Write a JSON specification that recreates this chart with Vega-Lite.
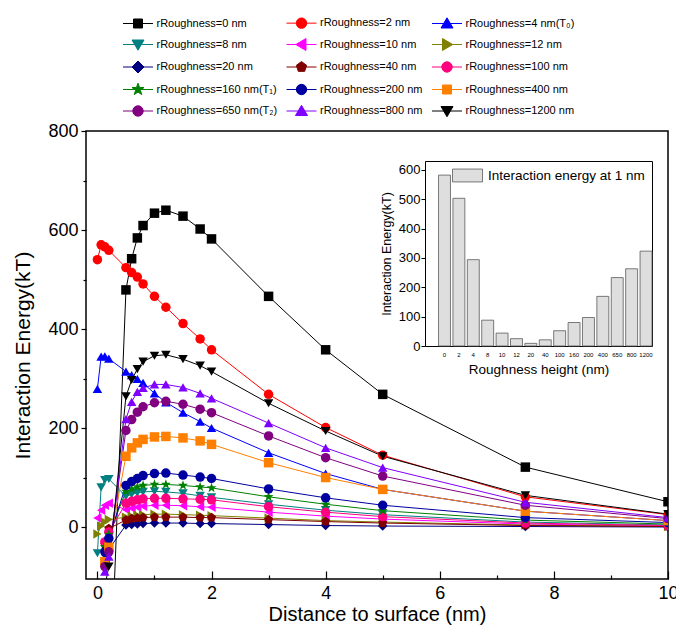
{
"$schema": "https://vega.github.io/schema/vega-lite/v6.json",
"width": 582, "height": 448,
"autosize": {"type": "none"},
"padding": {"left": 86, "top": 131, "right": 8, "bottom": 46},
"background": "white",
"config": {
 "view": {"stroke": "black", "strokeWidth": 1.5},
 "font": "Liberation Sans",
 "axis": {"labelFont": "Liberation Sans", "titleFont": "Liberation Sans", "labelColor": "black", "titleColor": "black", "tickColor": "black", "domainColor": "black", "grid": false, "titleFontWeight": "normal"},
 "legend": {"labelFont": "Liberation Sans", "labelColor": "black", "padding": 0}
},
"datasets": {
 "curves": [
  {"s":"0 nm","d":0.2,"e":-400},{"s":"0 nm","d":0.5,"e":479},{"s":"0 nm","d":0.6,"e":542},{"s":"0 nm","d":0.7,"e":584},{"s":"0 nm","d":0.8,"e":609},{"s":"0 nm","d":1,"e":634},{"s":"0 nm","d":1.2,"e":640},{"s":"0 nm","d":1.5,"e":628},{"s":"0 nm","d":1.8,"e":602},{"s":"0 nm","d":2,"e":582},{"s":"0 nm","d":3,"e":466},{"s":"0 nm","d":4,"e":358},{"s":"0 nm","d":5,"e":268},{"s":"0 nm","d":7.5,"e":121},{"s":"0 nm","d":10,"e":51},
  {"s":"2 nm","d":0,"e":540},{"s":"2 nm","d":0.065,"e":570},{"s":"2 nm","d":0.13,"e":566},{"s":"2 nm","d":0.2,"e":559},{"s":"2 nm","d":0.5,"e":524},{"s":"2 nm","d":0.6,"e":514},{"s":"2 nm","d":0.7,"e":505},{"s":"2 nm","d":0.8,"e":491},{"s":"2 nm","d":1,"e":466},{"s":"2 nm","d":1.2,"e":444},{"s":"2 nm","d":1.5,"e":411},{"s":"2 nm","d":1.8,"e":380},{"s":"2 nm","d":2,"e":358},{"s":"2 nm","d":3,"e":268},{"s":"2 nm","d":4,"e":201},{"s":"2 nm","d":5,"e":145},{"s":"2 nm","d":7.5,"e":61},{"s":"2 nm","d":10,"e":25},
  {"s":"4 nm(T₀)","d":0,"e":279},{"s":"4 nm(T₀)","d":0.065,"e":344},{"s":"4 nm(T₀)","d":0.13,"e":345},{"s":"4 nm(T₀)","d":0.2,"e":340},{"s":"4 nm(T₀)","d":0.5,"e":314},{"s":"4 nm(T₀)","d":0.6,"e":307},{"s":"4 nm(T₀)","d":0.7,"e":299},{"s":"4 nm(T₀)","d":0.8,"e":291},{"s":"4 nm(T₀)","d":1,"e":270},{"s":"4 nm(T₀)","d":1.2,"e":252},{"s":"4 nm(T₀)","d":1.5,"e":231},{"s":"4 nm(T₀)","d":1.8,"e":213},{"s":"4 nm(T₀)","d":2,"e":200},{"s":"4 nm(T₀)","d":3,"e":150},{"s":"4 nm(T₀)","d":4,"e":108},{"s":"4 nm(T₀)","d":5,"e":76},{"s":"4 nm(T₀)","d":7.5,"e":32},{"s":"4 nm(T₀)","d":10,"e":13},
  {"s":"8 nm","d":0,"e":-53},{"s":"8 nm","d":0.065,"e":80},{"s":"8 nm","d":0.13,"e":95},{"s":"8 nm","d":0.2,"e":97},{"s":"8 nm","d":0.5,"e":62},{"s":"8 nm","d":0.6,"e":66},{"s":"8 nm","d":0.7,"e":69},{"s":"8 nm","d":0.8,"e":71},{"s":"8 nm","d":1,"e":72},{"s":"8 nm","d":1.2,"e":71},{"s":"8 nm","d":1.5,"e":68},{"s":"8 nm","d":1.8,"e":63},{"s":"8 nm","d":2,"e":60},{"s":"8 nm","d":3,"e":46},{"s":"8 nm","d":4,"e":34},{"s":"8 nm","d":5,"e":25},{"s":"8 nm","d":7.5,"e":10},{"s":"8 nm","d":10,"e":4},
  {"s":"10 nm","d":0,"e":18},{"s":"10 nm","d":0.065,"e":34},{"s":"10 nm","d":0.13,"e":44},{"s":"10 nm","d":0.2,"e":48},{"s":"10 nm","d":0.5,"e":35},{"s":"10 nm","d":0.6,"e":38},{"s":"10 nm","d":0.7,"e":40},{"s":"10 nm","d":0.8,"e":42},{"s":"10 nm","d":1,"e":44},{"s":"10 nm","d":1.2,"e":44},{"s":"10 nm","d":1.5,"e":43},{"s":"10 nm","d":1.8,"e":41},{"s":"10 nm","d":2,"e":40},{"s":"10 nm","d":3,"e":30},{"s":"10 nm","d":4,"e":22},{"s":"10 nm","d":5,"e":16},{"s":"10 nm","d":7.5,"e":6},{"s":"10 nm","d":10,"e":2},
  {"s":"12 nm","d":0,"e":-14},{"s":"12 nm","d":0.065,"e":2},{"s":"12 nm","d":0.13,"e":10},{"s":"12 nm","d":0.2,"e":15},{"s":"12 nm","d":0.5,"e":20},{"s":"12 nm","d":0.6,"e":22},{"s":"12 nm","d":0.7,"e":24},{"s":"12 nm","d":0.8,"e":25},{"s":"12 nm","d":1,"e":26},{"s":"12 nm","d":1.2,"e":26},{"s":"12 nm","d":1.5,"e":25},{"s":"12 nm","d":1.8,"e":24},{"s":"12 nm","d":2,"e":23},{"s":"12 nm","d":3,"e":18},{"s":"12 nm","d":4,"e":13},{"s":"12 nm","d":5,"e":10},{"s":"12 nm","d":7.5,"e":4},{"s":"12 nm","d":10,"e":1},
  {"s":"20 nm","d":0.13,"e":-65},{"s":"20 nm","d":0.2,"e":-45},{"s":"20 nm","d":0.5,"e":4},{"s":"20 nm","d":0.6,"e":5},{"s":"20 nm","d":0.7,"e":6},{"s":"20 nm","d":0.8,"e":7},{"s":"20 nm","d":1,"e":8},{"s":"20 nm","d":1.2,"e":8},{"s":"20 nm","d":1.5,"e":8},{"s":"20 nm","d":1.8,"e":7},{"s":"20 nm","d":2,"e":7},{"s":"20 nm","d":3,"e":5},{"s":"20 nm","d":4,"e":3},{"s":"20 nm","d":5,"e":2},{"s":"20 nm","d":7.5,"e":1},{"s":"20 nm","d":10,"e":0},
  {"s":"40 nm","d":0.13,"e":-35},{"s":"40 nm","d":0.2,"e":-3},{"s":"40 nm","d":0.5,"e":14},{"s":"40 nm","d":0.6,"e":17},{"s":"40 nm","d":0.7,"e":18},{"s":"40 nm","d":0.8,"e":19},{"s":"40 nm","d":1,"e":20},{"s":"40 nm","d":1.2,"e":20},{"s":"40 nm","d":1.5,"e":20},{"s":"40 nm","d":1.8,"e":19},{"s":"40 nm","d":2,"e":19},{"s":"40 nm","d":3,"e":15},{"s":"40 nm","d":4,"e":11},{"s":"40 nm","d":5,"e":8},{"s":"40 nm","d":7.5,"e":3},{"s":"40 nm","d":10,"e":1},
  {"s":"100 nm","d":0.13,"e":-30},{"s":"100 nm","d":0.2,"e":-10},{"s":"100 nm","d":0.5,"e":48},{"s":"100 nm","d":0.6,"e":52},{"s":"100 nm","d":0.7,"e":55},{"s":"100 nm","d":0.8,"e":57},{"s":"100 nm","d":1,"e":58},{"s":"100 nm","d":1.2,"e":58},{"s":"100 nm","d":1.5,"e":57},{"s":"100 nm","d":1.8,"e":56},{"s":"100 nm","d":2,"e":55},{"s":"100 nm","d":3,"e":41},{"s":"100 nm","d":4,"e":30},{"s":"100 nm","d":5,"e":21},{"s":"100 nm","d":7.5,"e":8},{"s":"100 nm","d":10,"e":3},
  {"s":"160 nm(T₁)","d":0.13,"e":-40},{"s":"160 nm(T₁)","d":0.2,"e":-15},{"s":"160 nm(T₁)","d":0.5,"e":72},{"s":"160 nm(T₁)","d":0.6,"e":77},{"s":"160 nm(T₁)","d":0.7,"e":81},{"s":"160 nm(T₁)","d":0.8,"e":84},{"s":"160 nm(T₁)","d":1,"e":86},{"s":"160 nm(T₁)","d":1.2,"e":86},{"s":"160 nm(T₁)","d":1.5,"e":84},{"s":"160 nm(T₁)","d":1.8,"e":81},{"s":"160 nm(T₁)","d":2,"e":79},{"s":"160 nm(T₁)","d":3,"e":61},{"s":"160 nm(T₁)","d":4,"e":46},{"s":"160 nm(T₁)","d":5,"e":33},{"s":"160 nm(T₁)","d":7.5,"e":14},{"s":"160 nm(T₁)","d":10,"e":6},
  {"s":"200 nm","d":0.13,"e":-50},{"s":"200 nm","d":0.2,"e":-23},{"s":"200 nm","d":0.5,"e":84},{"s":"200 nm","d":0.6,"e":92},{"s":"200 nm","d":0.7,"e":98},{"s":"200 nm","d":0.8,"e":104},{"s":"200 nm","d":1,"e":108},{"s":"200 nm","d":1.2,"e":109},{"s":"200 nm","d":1.5,"e":105},{"s":"200 nm","d":1.8,"e":101},{"s":"200 nm","d":2,"e":98},{"s":"200 nm","d":3,"e":77},{"s":"200 nm","d":4,"e":59},{"s":"200 nm","d":5,"e":44},{"s":"200 nm","d":7.5,"e":19},{"s":"200 nm","d":10,"e":9},
  {"s":"400 nm","d":0.13,"e":-70},{"s":"400 nm","d":0.2,"e":-41},{"s":"400 nm","d":0.5,"e":143},{"s":"400 nm","d":0.6,"e":160},{"s":"400 nm","d":0.7,"e":170},{"s":"400 nm","d":0.8,"e":177},{"s":"400 nm","d":1,"e":182},{"s":"400 nm","d":1.2,"e":183},{"s":"400 nm","d":1.5,"e":180},{"s":"400 nm","d":1.8,"e":174},{"s":"400 nm","d":2,"e":167},{"s":"400 nm","d":3,"e":130},{"s":"400 nm","d":4,"e":100},{"s":"400 nm","d":5,"e":76},{"s":"400 nm","d":7.5,"e":32},{"s":"400 nm","d":10,"e":13},
  {"s":"650 nm(T₂)","d":0.13,"e":-80},{"s":"650 nm(T₂)","d":0.2,"e":-50},{"s":"650 nm(T₂)","d":0.5,"e":195},{"s":"650 nm(T₂)","d":0.6,"e":217},{"s":"650 nm(T₂)","d":0.7,"e":232},{"s":"650 nm(T₂)","d":0.8,"e":243},{"s":"650 nm(T₂)","d":1,"e":251},{"s":"650 nm(T₂)","d":1.2,"e":254},{"s":"650 nm(T₂)","d":1.5,"e":248},{"s":"650 nm(T₂)","d":1.8,"e":238},{"s":"650 nm(T₂)","d":2,"e":231},{"s":"650 nm(T₂)","d":3,"e":184},{"s":"650 nm(T₂)","d":4,"e":140},{"s":"650 nm(T₂)","d":5,"e":103},{"s":"650 nm(T₂)","d":7.5,"e":44},{"s":"650 nm(T₂)","d":10,"e":17},
  {"s":"800 nm","d":0.13,"e":-90},{"s":"800 nm","d":0.2,"e":-60},{"s":"800 nm","d":0.5,"e":218},{"s":"800 nm","d":0.6,"e":253},{"s":"800 nm","d":0.7,"e":273},{"s":"800 nm","d":0.8,"e":281},{"s":"800 nm","d":1,"e":288},{"s":"800 nm","d":1.2,"e":288},{"s":"800 nm","d":1.5,"e":282},{"s":"800 nm","d":1.8,"e":270},{"s":"800 nm","d":2,"e":260},{"s":"800 nm","d":3,"e":210},{"s":"800 nm","d":4,"e":160},{"s":"800 nm","d":5,"e":120},{"s":"800 nm","d":7.5,"e":50},{"s":"800 nm","d":10,"e":19},
  {"s":"1200 nm","d":0.13,"e":-120},{"s":"1200 nm","d":0.2,"e":-80},{"s":"1200 nm","d":0.5,"e":264},{"s":"1200 nm","d":0.6,"e":297},{"s":"1200 nm","d":0.7,"e":319},{"s":"1200 nm","d":0.8,"e":334},{"s":"1200 nm","d":1,"e":346},{"s":"1200 nm","d":1.2,"e":348},{"s":"1200 nm","d":1.5,"e":339},{"s":"1200 nm","d":1.8,"e":326},{"s":"1200 nm","d":2,"e":314},{"s":"1200 nm","d":3,"e":250},{"s":"1200 nm","d":4,"e":194},{"s":"1200 nm","d":5,"e":143},{"s":"1200 nm","d":7.5,"e":64},{"s":"1200 nm","d":10,"e":26}
 ],
 "bars": [
  {"h":"0","v":582},{"h":"2","v":503},{"h":"4","v":294},{"h":"8","v":88},{"h":"10","v":44},{"h":"12","v":25},{"h":"20","v":9},{"h":"40","v":21},{"h":"100","v":52},{"h":"160","v":80},{"h":"200","v":97},{"h":"400","v":169},{"h":"650","v":233},{"h":"800","v":263},{"h":"1200","v":323}
 ]
},
"layer": [
 {
  "data": {"name": "curves"},
  "layer": [
   {
    "mark": {"type": "line", "clip": true, "strokeWidth": 1},
    "encoding": {
     "x": {"field": "d", "type": "quantitative", "scale": {"domain": [-0.2, 10], "nice": false, "zero": false},
      "axis": {"orient": "bottom", "values": [0, 2, 4, 6, 8, 10], "tickSize": -8, "tickWidth": 1.2, "domain": false, "labelFontSize": 18, "labelPadding": 13, "labelFlush": false, "title": "Distance to surface (nm)", "titleFontSize": 20, "titlePadding": 2}},
     "y": {"field": "e", "type": "quantitative", "scale": {"domain": [-105, 800], "nice": false, "zero": false},
      "axis": {"orient": "left", "values": [0, 200, 400, 600, 800], "tickSize": 5, "tickWidth": 1.2, "domain": false, "labelFontSize": 18, "labelPadding": 3, "title": "Interaction Energy(kT)", "titleFontSize": 21, "titlePadding": 14}},
     "stroke": {"field": "s", "type": "nominal",
      "scale": {"domain": ["0 nm","2 nm","4 nm(T₀)","8 nm","10 nm","12 nm","20 nm","40 nm","100 nm","160 nm(T₁)","200 nm","400 nm","650 nm(T₂)","800 nm","1200 nm"],
       "range": ["#000000","#ff0000","#0000ff","#008080","#ff00ff","#808000","#000080","#800000","#ff0080","#008000","#0000a0","#ff8000","#800080","#8000ff","#000000"]},
      "legend": null}
    }
   },
   {
    "mark": {"type": "point", "clip": true, "filled": true, "opacity": 1, "size": 90},
    "encoding": {
     "x": {"field": "d", "type": "quantitative", "scale": {"domain": [-0.2, 10], "nice": false, "zero": false},
      "axis": {"orient": "bottom", "values": [1, 3, 5, 7, 9], "tickSize": -4, "tickWidth": 1.2, "labels": false, "domain": false, "title": null}},
     "y": {"field": "e", "type": "quantitative", "scale": {"domain": [-105, 800], "nice": false, "zero": false},
      "axis": {"orient": "left", "values": [100, 300, 500, 700], "tickSize": 3, "tickWidth": 1.2, "labels": false, "domain": false, "title": null}},
     "fill": {"field": "s", "type": "nominal",
      "scale": {"domain": ["0 nm","2 nm","4 nm(T₀)","8 nm","10 nm","12 nm","20 nm","40 nm","100 nm","160 nm(T₁)","200 nm","400 nm","650 nm(T₂)","800 nm","1200 nm"],
       "range": ["#000000","#ff0000","#0000ff","#008080","#ff00ff","#808000","#000080","#800000","#ff0080","#008000","#0000a0","#ff8000","#800080","#8000ff","#000000"]},
      "legend": null},
     "shape": {"field": "s", "type": "nominal",
      "scale": {"domain": ["0 nm","2 nm","4 nm(T₀)","8 nm","10 nm","12 nm","20 nm","40 nm","100 nm","160 nm(T₁)","200 nm","400 nm","650 nm(T₂)","800 nm","1200 nm"],
       "range": ["square","circle","triangle-up","triangle-down","triangle-left","triangle-right","diamond","M0,-1L0.951,-0.309L0.588,0.809L-0.588,0.809L-0.951,-0.309Z","circle","M0,-1.1L0.26,-0.36L1.05,-0.34L0.42,0.14L0.65,0.9L0,0.44L-0.65,0.9L-0.42,0.14L-1.05,-0.34L-0.26,-0.36Z","circle","square","circle","triangle-up","triangle-down"]},
      "legend": null}
    }
   },
   {
    "transform": [{"filter": "datum.d < -50"}],
    "mark": {"type": "point", "filled": true, "opacity": 1, "size": 400},
    "encoding": {
     "x": {"field": "d", "type": "quantitative", "axis": null},
     "y": {"field": "e", "type": "quantitative", "axis": null},
     "color": {"field": "s", "type": "nominal",
      "scale": {"domain": ["0 nm","2 nm","4 nm(T₀)","8 nm","10 nm","12 nm","20 nm","40 nm","100 nm","160 nm(T₁)","200 nm","400 nm","650 nm(T₂)","800 nm","1200 nm"],
       "range": ["#000000","#ff0000","#0000ff","#008080","#ff00ff","#808000","#000080","#800000","#ff0080","#008000","#0000a0","#ff8000","#800080","#8000ff","#000000"]},
      "legend": {"orient": "none", "direction": "horizontal", "legendX": 41.5, "legendY": -118.5, "columns": 3, "title": null, "symbolSize": 400, "symbolStrokeWidth": 1, "symbolOpacity": 1, "labelFontSize": 11, "labelOffset": 8, "columnPadding": 6.5, "rowPadding": 3.5, "labelExpr": "'rRoughness=' + datum.label"}},
     "stroke": {"field": "s", "type": "nominal",
      "scale": {"domain": ["0 nm","2 nm","4 nm(T₀)","8 nm","10 nm","12 nm","20 nm","40 nm","100 nm","160 nm(T₁)","200 nm","400 nm","650 nm(T₂)","800 nm","1200 nm"],
       "range": ["#000000","#ff0000","#0000ff","#008080","#ff00ff","#808000","#000080","#800000","#ff0080","#008000","#0000a0","#ff8000","#800080","#8000ff","#000000"]},
      "legend": {"orient": "none", "direction": "horizontal", "legendX": 41.5, "legendY": -118.5, "columns": 3, "title": null, "symbolSize": 400, "symbolStrokeWidth": 1, "symbolOpacity": 1, "labelFontSize": 11, "labelOffset": 8, "columnPadding": 6.5, "rowPadding": 3.5, "labelExpr": "'rRoughness=' + datum.label"}},
     "shape": {"field": "s", "type": "nominal",
      "scale": {"domain": ["0 nm","2 nm","4 nm(T₀)","8 nm","10 nm","12 nm","20 nm","40 nm","100 nm","160 nm(T₁)","200 nm","400 nm","650 nm(T₂)","800 nm","1200 nm"],
       "range": [
        "M-1.5,0H1.5M-0.45,-0.45H0.45V0.45H-0.45Z",
        "M-1.5,0H1.5M-0.52,0A0.52,0.52,0,1,0,0.52,0A0.52,0.52,0,1,0,-0.52,0Z",
        "M-1.5,0H1.5M0,-0.57L0.6,0.45H-0.6Z",
        "M-1.5,0H1.5M0,0.57L0.6,-0.45H-0.6Z",
        "M-1.5,0H1.5M-0.57,0L0.45,-0.6V0.6Z",
        "M-1.5,0H1.5M0.57,0L-0.45,-0.6V0.6Z",
        "M-1.5,0H1.5M0,-0.6L0.6,0L0,0.6L-0.6,0Z",
        "M-1.5,0H1.5M0,-0.54L0.513,-0.167L0.318,0.437L-0.318,0.437L-0.513,-0.167Z",
        "M-1.5,0H1.5M-0.52,0A0.52,0.52,0,1,0,0.52,0A0.52,0.52,0,1,0,-0.52,0Z",
        "M-1.5,0H1.5M0,-0.63L0.15,-0.207L0.6,-0.195L0.243,0.078L0.37,0.51L0,0.255L-0.37,0.51L-0.243,0.078L-0.6,-0.195L-0.15,-0.207Z",
        "M-1.5,0H1.5M-0.52,0A0.52,0.52,0,1,0,0.52,0A0.52,0.52,0,1,0,-0.52,0Z",
        "M-1.5,0H1.5M-0.45,-0.45H0.45V0.45H-0.45Z",
        "M-1.5,0H1.5M-0.52,0A0.52,0.52,0,1,0,0.52,0A0.52,0.52,0,1,0,-0.52,0Z",
        "M-1.5,0H1.5M0,-0.57L0.6,0.45H-0.6Z",
        "M-1.5,0H1.5M0,0.57L0.6,-0.45H-0.6Z"
       ]},
      "legend": {"orient": "none", "direction": "horizontal", "legendX": 41.5, "legendY": -118.5, "columns": 3, "title": null, "symbolSize": 400, "symbolStrokeWidth": 1, "symbolOpacity": 1, "labelFontSize": 11, "labelOffset": 8, "columnPadding": 6.5, "rowPadding": 3.5, "labelExpr": "'rRoughness=' + datum.label"}}
    }
   }
  ],
  "resolve": {"scale": {"stroke": "independent", "fill": "independent", "shape": "independent", "color": "independent"}, "axis": {"x": "independent", "y": "independent"}}
 },
 {
  "data": {"name": "bars"},
  "layer": [
   {
    "mark": {"type": "bar", "stroke": "#5a5a5a", "strokeWidth": 0.8},
    "encoding": {
     "x": {"field": "h", "type": "nominal", "sort": null,
      "scale": {"domain": ["0","2","4","8","10","12","20","40","100","160","200","400","650","800","1200"], "range": [339, 566], "paddingInner": 0.17, "paddingOuter": 0.47, "align": 1},
      "axis": {"orient": "bottom", "offset": -233, "ticks": false, "domainWidth": 1, "labelAngle": 0, "labelFontSize": 6, "labelPadding": 5, "title": "Roughness height (nm)", "titleFontSize": 13.5, "titlePadding": 5}},
     "y": {"field": "v", "type": "quantitative",
      "scale": {"domain": [0, 630], "range": [215, 30], "nice": false},
      "axis": {"orient": "left", "offset": -339, "values": [0, 100, 200, 300, 400, 500, 600], "tickSize": 4, "domainWidth": 1, "labelFontSize": 13, "labelPadding": 1, "title": "Interaction Energy(kT)", "titleFontSize": 12.5, "titlePadding": 5}},
     "color": {"datum": "Interaction energy at 1 nm", "type": "nominal",
      "scale": {"range": ["#dedede"]},
      "legend": {"orient": "none", "legendX": 366, "legendY": 29, "title": null, "symbolType": "M-1,-0.43H1V0.43H-1Z", "symbolSize": 900, "symbolStrokeWidth": 0.8, "labelFontSize": 13.5, "labelOffset": 5}}
    }
   },
   {
    "mark": {"type": "bar", "opacity": 0},
    "encoding": {
     "x": {"field": "h", "type": "nominal", "sort": null,
      "axis": {"orient": "top", "offset": -30, "ticks": false, "labels": false, "title": null, "domainWidth": 1}},
     "y": {"field": "v", "type": "quantitative",
      "axis": {"orient": "right", "offset": -16, "ticks": false, "labels": false, "title": null, "domainWidth": 1}}
    }
   }
  ],
  "resolve": {"axis": {"x": "independent", "y": "independent"}}
 }
],
"resolve": {"scale": {"x": "independent", "y": "independent", "color": "independent", "fill": "independent", "stroke": "independent", "shape": "independent"}}
}
